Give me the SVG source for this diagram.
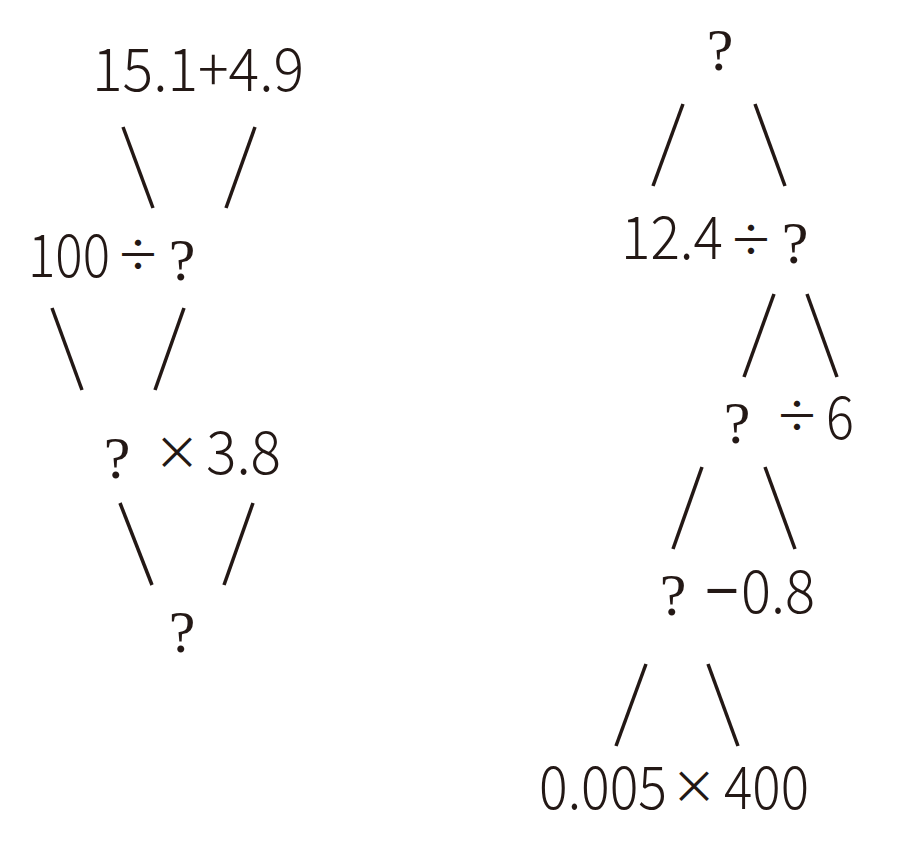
<svg xmlns="http://www.w3.org/2000/svg" width="915" height="844" viewBox="0 0 915 844">
<style>
.n{font-family:"Noto Sans CJK SC","Noto Sans",sans-serif;font-weight:300;font-size:60px;fill:#231815}
.o{font-family:"Noto Sans CJK SC","Noto Sans",sans-serif;font-weight:400;font-size:60px;fill:#231815;text-anchor:middle}
.d{font-size:44px}
.x{font-size:46px}
.q{font-family:"Liberation Serif",serif;font-size:60px;fill:#231815;text-anchor:middle}
.c line{stroke:#231815;stroke-width:3.5}
</style>
<rect width="915" height="844" fill="#fff"/>
<g id="connectors" class="c">
<line x1="123" y1="127" x2="153" y2="208"/>
<line x1="255" y1="127" x2="226" y2="208"/>
<line x1="52" y1="308" x2="82" y2="390"/>
<line x1="184" y1="308" x2="155" y2="390"/>
<line x1="120" y1="503" x2="152" y2="585"/>
<line x1="253" y1="503" x2="224" y2="585"/>
<line x1="683" y1="104" x2="653" y2="186"/>
<line x1="755" y1="104" x2="785" y2="186"/>
<line x1="774" y1="294" x2="744" y2="377"/>
<line x1="807" y1="294" x2="837" y2="377"/>
<line x1="702" y1="467" x2="673" y2="549"/>
<line x1="765" y1="467" x2="795" y2="549"/>
<line x1="646" y1="664" x2="616" y2="746"/>
<line x1="708" y1="664" x2="738" y2="746"/>
</g>
<g id="left-top"><text class="n" x="92" y="91" textLength="212" lengthAdjust="spacingAndGlyphs">15.1+4.9</text></g>
<g id="left-2"><text class="n" x="28" y="277" textLength="82" lengthAdjust="spacingAndGlyphs">100</text><text class="o d" x="138" y="271">÷</text><text class="q" x="182" y="280">?</text></g>
<g id="left-3"><text class="q" x="117" y="478">?</text><text class="o x" x="177" y="469">×</text><text class="n" x="206" y="474" textLength="75" lengthAdjust="spacingAndGlyphs">3.8</text></g>
<g id="left-4"><text class="q" x="182" y="652">?</text></g>
<g id="right-top"><text class="q" x="720" y="70">?</text></g>
<g id="right-2"><text class="n" x="621" y="259" textLength="102" lengthAdjust="spacingAndGlyphs">12.4</text><text class="o d" x="751" y="256">÷</text><text class="q" x="795" y="263">?</text></g>
<g id="right-3"><text class="q" x="737" y="443">?</text><text class="o d" x="797" y="432">÷</text><text class="n" x="826" y="439" textLength="28" lengthAdjust="spacingAndGlyphs">6</text></g>
<g id="right-4"><text class="q" x="673" y="615">?</text><text class="o" x="722" y="613">−</text><text class="n" x="741" y="613" textLength="74" lengthAdjust="spacingAndGlyphs">0.8</text></g>
<g id="right-5"><text class="n" x="539" y="809" textLength="128" lengthAdjust="spacingAndGlyphs">0.005</text><text class="o x" x="694" y="803">×</text><text class="n" x="724" y="809" textLength="85" lengthAdjust="spacingAndGlyphs">400</text></g>
</svg>
